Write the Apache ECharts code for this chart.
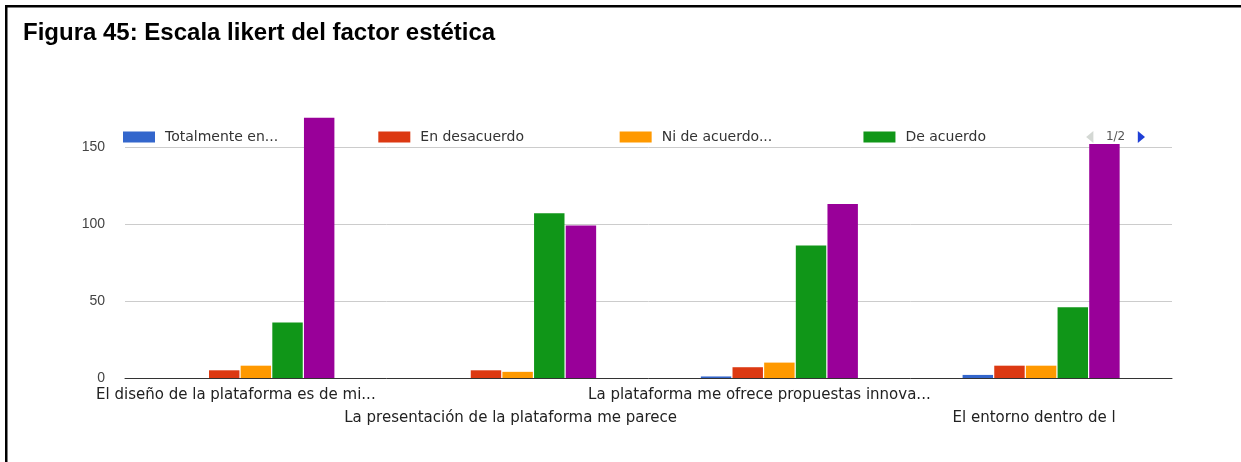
<!DOCTYPE html>
<html>
<head>
<meta charset="utf-8">
<style>
  html, body { margin: 0; padding: 0; background: #fff; }
  #chart { width: 1241px; height: 462px; }
</style>
<script src="https://cdn.jsdelivr.net/npm/echarts@6/dist/echarts.min.js"></script>
</head>
<body>
<div id="chart"></div>
<script>
// Survey items (truncated as they appear under the axis)
const categories = [
  'El diseño de la plataforma es de mi...',
  'La presentación de la plataforma me parece',
  'La plataforma me ofrece propuestas innova...',
  'El entorno dentro de l'
];

// Likert answer levels
const seriesNames = [
  'Totalmente en desacuerdo',
  'En desacuerdo',
  'Ni de acuerdo ni en desacuerdo',
  'De acuerdo',
  'Totalmente de acuerdo'
];
const legendLabels = [
  'Totalmente en...',
  'En desacuerdo',
  'Ni de acuerdo...',
  'De acuerdo',
  'Totalmente de...'
];

// Number of responses per item
const totalmenteEnDesacuerdo = [0, 0, 1, 2];
const enDesacuerdo = [5, 5, 7, 8];
const niDeAcuerdo = [8, 4, 10, 8];
const deAcuerdo = [36, 107, 86, 46];
const totalmenteDeAcuerdo = [169, 99, 113, 152];

const yTicks = [0, 50, 100, 150];

const seriesValues = [totalmenteEnDesacuerdo, enDesacuerdo, niDeAcuerdo, deAcuerdo, totalmenteDeAcuerdo];
const colors = ['#3366cc', '#dc3912', '#ff9900', '#109618', '#990099'];
const font = "'Liberation Sans', Arial, sans-serif";
const wideFont = "'DejaVu Sans', Verdana, sans-serif";

// Legend layout: distance from one swatch to the next
const legendFontSize = 14;
const legendIconW = 32;
const legendGap = 20;
const legendPitch = [255, 242, 245, 245, 245];

const measureCtx = document.createElement('canvas').getContext('2d');
measureCtx.font = legendFontSize + 'px ' + wideFont;
const NBSP = '\u00a0';
const nbspW = measureCtx.measureText(NBSP).width || 4.5;

// Pads each legend label with trailing spaces so the swatches sit on an even grid
function paddedLabel(i) {
  const label = legendLabels[i];
  const box = legendPitch[i] - legendIconW - 5 - legendGap - 5;
  const w = measureCtx.measureText(label).width;
  const n = Math.max(0, Math.round((box - w) / nbspW));
  return label + NBSP.repeat(n);
}

const chart = echarts.init(document.getElementById('chart'));

const axisLabelStyle = { fontFamily: wideFont, fontSize: 15, color: '#222', lineHeight: 23 };

chart.setOption({
  backgroundColor: '#ffffff',
  animation: false,
  color: colors,
  title: {
    text: 'Figura 45: Escala likert del factor estética',
    left: 18,
    top: 16,
    textStyle: { fontFamily: font, fontSize: 24, fontWeight: 'bold', color: '#000' }
  },
  graphic: [
    { type: 'rect', left: 5, top: 5, shape: { width: 1236, height: 2.5 }, style: { fill: '#000' } },
    { type: 'rect', left: 5, top: 5, shape: { width: 2.5, height: 457 }, style: { fill: '#000' } }
  ],
  legend: {
    type: 'scroll',
    orient: 'horizontal',
    left: 123,
    top: 130,
    padding: 0,
    width: 1022,
    itemWidth: legendIconW,
    itemHeight: 11,
    itemGap: legendGap,
    icon: 'rect',
    data: seriesNames,
    formatter: function (name) {
      return paddedLabel(seriesNames.indexOf(name));
    },
    textStyle: { fontFamily: wideFont, fontSize: legendFontSize, color: '#333', padding: [0, 0, 0, 5] },
    pageButtonGap: 5,
    pageButtonItemGap: 6,
    pageButtonPosition: 'end',
    pageIconSize: [9, 12],
    pageIconColor: '#1f3fd6',
    pageIconInactiveColor: '#d4d8d4',
    pageFormatter: '{current}/{total}',
    pageTextStyle: { fontFamily: wideFont, fontSize: 12, color: '#555' }
  },
  grid: { left: 125, right: 69, top: 147, bottom: 84, containLabel: false },
  xAxis: {
    type: 'category',
    data: categories,
    axisLine: { lineStyle: { color: '#333', width: 1 } },
    axisTick: { show: false },
    axisLabel: Object.assign({
      interval: 0,
      hideOverlap: false,
      margin: 6,
      // labels alternate between two rows, each nudged slightly left of its group
      formatter: function (value, idx) {
        return idx % 2 === 1 ? '\n{b|' + value + '}' : '{a|' + value + '}';
      },
      rich: {
        a: Object.assign({ padding: [0, 40, 0, 0] }, axisLabelStyle),
        b: Object.assign({ padding: [0, 14, 0, 0] }, axisLabelStyle)
      }
    }, axisLabelStyle)
  },
  yAxis: {
    type: 'value',
    min: yTicks[0],
    max: yTicks[yTicks.length - 1],
    interval: 50,
    axisLine: { show: false },
    axisTick: { show: false },
    splitLine: { lineStyle: { color: '#cccccc' } },
    axisLabel: { margin: 20, fontFamily: font, fontSize: 14, color: '#444' }
  },
  series: seriesNames.map(function (name, i) {
    return {
      name: name,
      type: 'bar',
      data: seriesValues[i],
      clip: false,
      barGap: '4%',
      barCategoryGap: '40%'
    };
  })
});
</script>
</body>
</html>
